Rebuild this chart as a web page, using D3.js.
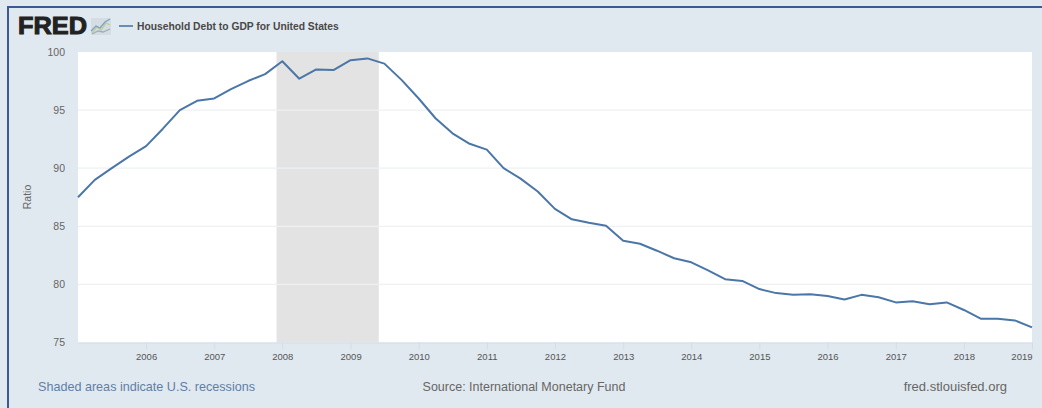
<!DOCTYPE html>
<html>
<head>
<meta charset="utf-8">
<script src="https://cdn.jsdelivr.net/npm/d3@7"></script>
<style>
  html, body { margin: 0; padding: 0; background: #fff; }
  svg { display: block; }
  text { font-family: "Liberation Sans", Arial, sans-serif; }
</style>
</head>
<body>
<svg id="chart" width="1042" height="408"></svg>
<script>
// Household debt to GDP, quarterly, first quarter of 2005 onward
const firstYear = 2005;
const ratio = [
  87.5, 89.0, 90.0, 91.0,
  91.9, 93.4, 95.0, 95.8,
  96.0, 96.8, 97.5, 98.1,
  99.2, 97.7, 98.5, 98.45,
  99.3, 99.45, 99.0, 97.6,
  96.0, 94.3, 93.0, 92.1,
  91.6, 90.0, 89.1, 88.0,
  86.5, 85.6, 85.3, 85.05,
  83.75, 83.5, 82.9, 82.25,
  81.9, 81.2, 80.45, 80.3,
  79.6, 79.25, 79.1, 79.15,
  79.0, 78.7, 79.1, 78.9,
  78.45, 78.55, 78.3, 78.45,
  77.8, 77.05, 77.05, 76.9,
  76.3
];
const quarters = ratio.map((_, i) => new Date(firstYear + Math.floor(i / 4), (i % 4) * 3, 1));
const recession = [new Date(2007, 11, 1), new Date(2009, 5, 1)];
const yTicks = [75, 80, 85, 90, 95, 100];
const xTickYears = d3.range(2006, 2020);

const frame = { left: 78, right: 1032, top: 52, bottom: 342.5 };
const svg = d3.select("#chart");

const x = d3.scaleTime()
  .domain([quarters[0], quarters[quarters.length - 1]])
  .range([frame.left, frame.right]);
const y = d3.scaleLinear().domain([75, 100]).range([frame.bottom, frame.top]);

// Panel background and outer rule
svg.append("rect").attr("width", 1042).attr("height", 408).attr("fill", "#e1e9f0");
svg.append("path")
  .attr("d", d3.line()([[8, 408], [8, 7], [1042, 7]]))
  .attr("fill", "none").attr("stroke", "#3b5a94").attr("stroke-width", 2);

// Plot area
svg.append("rect")
  .attr("x", frame.left).attr("y", frame.top)
  .attr("width", frame.right - frame.left).attr("height", frame.bottom - frame.top)
  .attr("fill", "#fff");

// Recession band
svg.append("rect")
  .attr("x", x(recession[0])).attr("y", frame.top)
  .attr("width", x(recession[1]) - x(recession[0])).attr("height", frame.bottom - frame.top)
  .attr("fill", "#e3e3e3");

// Horizontal grid lines
svg.append("g").selectAll("line").data(yTicks.slice(1, -1)).join("line")
  .attr("x1", frame.left).attr("x2", frame.right)
  .attr("y1", d => y(d)).attr("y2", d => y(d))
  .attr("stroke", "#eef0f2").attr("stroke-width", 1.2);

// Axes
const yAxis = svg.append("g").attr("transform", `translate(${frame.left},0)`)
  .call(d3.axisLeft(y).tickValues(yTicks).tickSize(0).tickPadding(13));
yAxis.select(".domain").remove();
yAxis.selectAll("text").attr("font-size", 10.5).attr("fill", "#666")
  .style("font-family", '"Liberation Sans", Arial, sans-serif');

const xAxis = svg.append("g").attr("transform", `translate(0,${frame.bottom})`)
  .call(d3.axisBottom(x)
    .tickValues(xTickYears.map(yr => new Date(yr, 0, 1)))
    .tickFormat(d3.timeFormat("%Y"))
    .tickSizeInner(7).tickSizeOuter(0).tickPadding(4));
xAxis.select(".domain").attr("stroke", "#d3dde9");
xAxis.selectAll("line").attr("stroke", "#d3dde9");
xAxis.selectAll("text").attr("font-size", 9.5).attr("fill", "#555")
  .style("font-family", '"Liberation Sans", Arial, sans-serif');
xAxis.selectAll("g.tick").filter(d => d.getFullYear() === 2019).select("text")
  .attr("text-anchor", "end").attr("dx", 0);

svg.append("text")
  .attr("transform", "translate(31,197) rotate(-90)")
  .attr("text-anchor", "middle").attr("font-size", 10.5).attr("fill", "#666")
  .text("Ratio");

// Data line
svg.append("path")
  .datum(ratio)
  .attr("d", d3.line().x((_, i) => x(quarters[i])).y(d => y(d)))
  .attr("fill", "none").attr("stroke", "#4a76a8").attr("stroke-width", 2)
  .attr("stroke-linejoin", "round");

// Header: wordmark, small sparkline icon and legend
svg.append("text")
  .attr("x", 18).attr("y", 34)
  .attr("font-size", 24).attr("font-weight", 700).attr("fill", "#222")
  .attr("stroke", "#222").attr("stroke-width", 1)
  .attr("textLength", 69).attr("lengthAdjust", "spacingAndGlyphs")
  .text("FRED");

svg.append("rect").attr("x", 91).attr("y", 18).attr("width", 20).attr("height", 17)
  .attr("fill", "#d3dde3");
const icon = svg.append("g").attr("fill", "none").attr("stroke-width", 1.3);
icon.append("path").attr("stroke", "#b9cf9e").attr("d", "M92,33 L97,27 L101,30 L106,23 L110,25");
icon.append("path").attr("stroke", "#7f9fc0").attr("d", "M91,31 L96,26 L100,28 L105,22 L110,19");
icon.append("path").attr("stroke", "#a3adb8").attr("d", "M92,34 L98,31 L103,32 L110,29");

svg.append("line").attr("x1", 119).attr("x2", 133).attr("y1", 26).attr("y2", 26)
  .attr("stroke", "#4a76a8").attr("stroke-width", 1.6);
svg.append("text")
  .attr("x", 137).attr("y", 29.5)
  .attr("font-size", 10.3).attr("font-weight", 700).attr("fill", "#484848")
  .text("Household Debt to GDP for United States");

// Footer notes
svg.append("text").attr("x", 38).attr("y", 391)
  .attr("font-size", 12.6).attr("fill", "#5f7ea6")
  .text("Shaded areas indicate U.S. recessions");
svg.append("text").attr("x", 524).attr("y", 391).attr("text-anchor", "middle")
  .attr("font-size", 12.5).attr("fill", "#666")
  .text("Source: International Monetary Fund");
svg.append("text").attr("x", 1007).attr("y", 391).attr("text-anchor", "end")
  .attr("font-size", 13).attr("fill", "#666")
  .text("fred.stlouisfed.org");
</script>
</body>
</html>
